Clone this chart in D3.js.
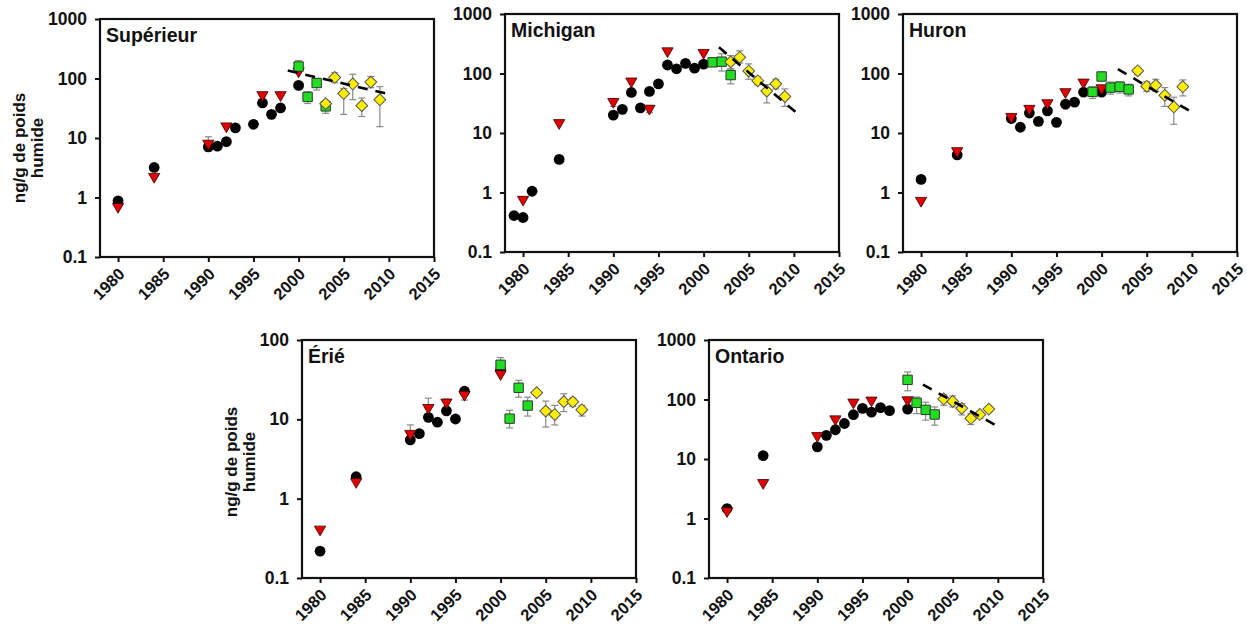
<!DOCTYPE html>
<html>
<head>
<meta charset="utf-8">
<script src="https://cdn.jsdelivr.net/npm/d3@7"></script>
<style>
  body { margin: 0; background: #fff; }
  text { font-family: "Liberation Sans", Arial, sans-serif; font-weight: bold; fill: #111; }
</style>
</head>
<body>
<div id="chart"></div>
<script>
// DATA — [year, value, errLow, errHigh]
const yearTicks = [1980, 1985, 1990, 1995, 2000, 2005, 2010, 2015];
const yTicksWide = [0.1, 1, 10, 100, 1000];
const yTicksErie = [0.1, 1, 10, 100];
const yLabelLines = ["ng/g de poids", "humide"];

// Supérieur
const supCircle = [[1980,0.88],[1984,3.2],[1990,7.1,6,10.5],[1991,7.3],[1992,8.7],[1993,14.8],[1995,17],[1996,38.8],[1997,25],[1998,32],[2000,76.5]];
const supTri = [[1980,0.70],[1984,2.24],[1990,8.1],[1992,15.8],[1996,53],[1998,53],[2000,133]];
const supSquare = [[2000,159,130,200],[2001,49,38,60],[2002,84,64,100],[2003,34,26,42]];
const supDiamond = [[2003,37.8,32,42],[2004,104,85,125],[2005,56,25,68],[2006,81,44,118],[2007,35,23,47],[2008,87,70,108],[2009,44,15.5,73]];
const supTrend = [[1998.8,136],[2010.1,54]];

// Michigan
const micCircle = [[1979,0.41],[1980,0.38],[1981,1.05],[1984,3.6],[1990,20],[1991,25],[1992,48],[1993,26.5],[1994,50],[1995,67],[1996,139],[1997,120],[1998,148],[1999,123],[2000,144]];
const micTri = [[1980,0.76],[1984,14.8],[1990,33.5,28,38],[1992,74],[1994,25.8,22,29],[1996,238],[2000,224]];
const micSquare = [[2001,154],[2002,158,110,215],[2003,94,67,120]];
const micDiamond = [[2003,157,120,200],[2004,187,150,240],[2005,110,80,145],[2006,75.5,65,88],[2007,50.6,32,65],[2008,67,55,80],[2009,41,28,55]];
const micTrend = [[2001.7,275],[2010.7,19.4]];

// Huron
const hurCircle = [[1980,1.66],[1984,4.3],[1990,17.5],[1991,12.5],[1992,21.7],[1993,15.7],[1994,23.5],[1995,15.1],[1996,30.4],[1997,33],[1998,48.5],[2000,48.5]];
const hurTri = [[1980,0.73],[1984,5.0],[1990,18.8],[1992,25.7],[1994,32],[1996,49],[1998,71],[2000,57]];
const hurSquare = [[1999,49,38,60],[2000,89,75,105],[2001,58,45,72],[2002,60,47,72],[2003,54,42,66]];
const hurDiamond = [[2004,111,95,125],[2005,61,50,73],[2006,63.5,50,80],[2007,43,28,58],[2008,27.4,14,40],[2009,60,42,78]];
const hurTrend = [[2001.8,118],[2010.1,22]];

// Érié
const eriCircle = [[1980,0.218],[1984,1.89],[1990,5.5],[1991,6.6],[1992,10.6],[1993,9.2],[1994,12.8],[1995,10.1],[1996,22.6],[2000,42.5]];
const eriTri = [[1980,0.41],[1984,1.63],[1990,6.6,5.5,8.5],[1992,14,11,18.5],[1994,16.4,14,18],[1996,20.5,17.5,23],[2000,37.4]];
const eriSquare = [[2000,48.7,38,60],[2001,10.2,7.8,13],[2002,25,19,31],[2003,14.9,11,19]];
const eriDiamond = [[2004,21.7],[2005,12.7,8,17],[2006,11.5,8.5,15],[2007,16.7,12.5,21],[2008,16.6,14.5,18.5],[2009,13.2,11,15]];
const eriTrend = [];

// Ontario
const ontCircle = [[1980,1.47],[1984,11.4],[1990,16],[1991,25],[1992,31],[1993,39.5],[1994,55.5],[1995,71],[1996,61.5],[1997,73],[1998,65],[2000,69]];
const ontTri = [[1980,1.34],[1984,3.98],[1990,24.5],[1992,46.8],[1994,89.6],[1996,96.9],[2000,98]];
const ontSquare = [[2000,214,140,290],[2001,88,58,110],[2002,67,45,90],[2003,56,37,75]];
const ontDiamond = [[2004,102,80,120],[2005,93,75,115],[2006,71,55,85],[2007,48,38,58],[2008,56,48,62],[2009,69,62,76]];
const ontTrend = [[2001.7,178],[2010.2,34]];

// panel table (layout + data refs)
const panels = [
  { name: "Supérieur", left: 100, top: 19, yTicks: yTicksWide, label: { dx: -75, dy: 10 },
    circle: supCircle, tri: supTri, square: supSquare, diamond: supDiamond, trend: supTrend },
  { name: "Michigan", left: 505, top: 14, yTicks: yTicksWide, label: null,
    circle: micCircle, tri: micTri, square: micSquare, diamond: micDiamond, trend: micTrend },
  { name: "Huron", left: 903, top: 14, yTicks: yTicksWide, label: null,
    circle: hurCircle, tri: hurTri, square: hurSquare, diamond: hurDiamond, trend: hurTrend },
  { name: "Érié", left: 302, top: 340, yTicks: yTicksErie, label: { dx: -65, dy: 3 },
    circle: eriCircle, tri: eriTri, square: eriSquare, diamond: eriDiamond, trend: eriTrend },
  { name: "Ontario", left: 709, top: 340, yTicks: yTicksWide, label: null,
    circle: ontCircle, tri: ontTri, square: ontSquare, diamond: ontDiamond, trend: ontTrend }
];

const width = 334;
const height = 238;

const svg = d3.select("#chart").append("svg")
  .attr("width", 1247)
  .attr("height", 626);

panels.forEach(p => {
  const g = svg.append("g").attr("transform", `translate(${p.left}, ${p.top})`);

  const x = d3.scaleLinear().domain([1978, 2015]).range([0, width]);
  const y = d3.scaleLog().domain(d3.extent(p.yTicks)).range([height, 0]);

  // axes
  const xAxis = g.append("g")
    .attr("transform", `translate(0, ${height})`)
    .call(d3.axisBottom(x).tickValues(yearTicks).tickFormat(d3.format("d")).tickSize(5));
  xAxis.select(".domain").remove();
  xAxis.selectAll(".tick line").attr("stroke", "#111").attr("stroke-width", 2);
  xAxis.selectAll("text")
    .attr("x", 0).attr("y", 0).attr("dy", "0.35em")
    .attr("text-anchor", "end")
    .attr("transform", "translate(3, 14) rotate(-45)")
    .style("font-size", "16.5px");

  const yAxis = g.append("g")
    .call(d3.axisLeft(y).tickValues(p.yTicks).tickFormat(d3.format("~g")).tickSize(5));
  yAxis.select(".domain").remove();
  yAxis.selectAll(".tick line").attr("stroke", "#111").attr("stroke-width", 2);
  yAxis.selectAll("text").attr("x", -13).style("font-size", "17.5px");

  // frame
  g.append("rect")
    .attr("width", width).attr("height", height)
    .attr("fill", "none").attr("stroke", "#111").attr("stroke-width", 2.2);

  // title
  g.append("text")
    .attr("x", 6).attr("y", 23)
    .style("font-size", "19.5px")
    .text(p.name);

  // y label
  if (p.label) {
    const yl = g.append("text")
      .attr("transform", `translate(${p.label.dx}, ${height / 2 + p.label.dy}) rotate(-90)`)
      .attr("text-anchor", "middle")
      .style("font-size", "17px");
    yLabelLines.forEach((t, i) => {
      yl.append("tspan").attr("x", 0).attr("dy", i === 0 ? 0 : "1.05em").text(t);
    });
  }

  // error bars
  const withErr = [].concat(p.circle, p.tri, p.square, p.diamond).filter(d => d.length > 2);
  const eb = g.append("g").attr("stroke", "#8a8a8a").attr("stroke-width", 1.2);
  withErr.forEach(d => {
    const cx = x(d[0]);
    eb.append("line").attr("x1", cx).attr("x2", cx).attr("y1", y(d[2])).attr("y2", y(d[3]));
    eb.append("line").attr("x1", cx - 3.5).attr("x2", cx + 3.5).attr("y1", y(d[2])).attr("y2", y(d[2]));
    eb.append("line").attr("x1", cx - 3.5).attr("x2", cx + 3.5).attr("y1", y(d[3])).attr("y2", y(d[3]));
  });

  // black circles
  g.append("g").selectAll("circle")
    .data(p.circle)
    .join("circle")
    .attr("cx", d => x(d[0]))
    .attr("cy", d => y(d[1]))
    .attr("r", 5.4)
    .attr("fill", "#000");

  // red triangles (pointing down)
  const tri = d3.symbol().type(d3.symbolTriangle).size(55);
  g.append("g").selectAll("path")
    .data(p.tri)
    .join("path")
    .attr("d", tri)
    .attr("transform", d => `translate(${x(d[0])}, ${y(d[1])}) rotate(180)`)
    .attr("fill", "#e00000")
    .attr("stroke", "#3a0000")
    .attr("stroke-width", 0.8);

  // green squares
  const sq = d3.symbol().type(d3.symbolSquare).size(88);
  g.append("g").selectAll("path")
    .data(p.square)
    .join("path")
    .attr("d", sq)
    .attr("transform", d => `translate(${x(d[0])}, ${y(d[1])})`)
    .attr("fill", "#22dd22")
    .attr("stroke", "#2a3a2a")
    .attr("stroke-width", 1);

  // yellow diamonds
  const dm = d3.symbol().type(d3.symbolSquare).size(70);
  g.append("g").selectAll("path")
    .data(p.diamond)
    .join("path")
    .attr("d", dm)
    .attr("transform", d => `translate(${x(d[0])}, ${y(d[1])}) rotate(45)`)
    .attr("fill", "#ffee00")
    .attr("stroke", "#555")
    .attr("stroke-width", 1);

  // trend line
  if (p.trend.length) {
    const line = d3.line().x(d => x(d[0])).y(d => y(d[1]));
    g.append("path")
      .attr("d", line(p.trend))
      .attr("fill", "none")
      .attr("stroke", "#000")
      .attr("stroke-width", 2.6)
      .attr("stroke-dasharray", "10,8");
  }
});
</script>
</body>
</html>
